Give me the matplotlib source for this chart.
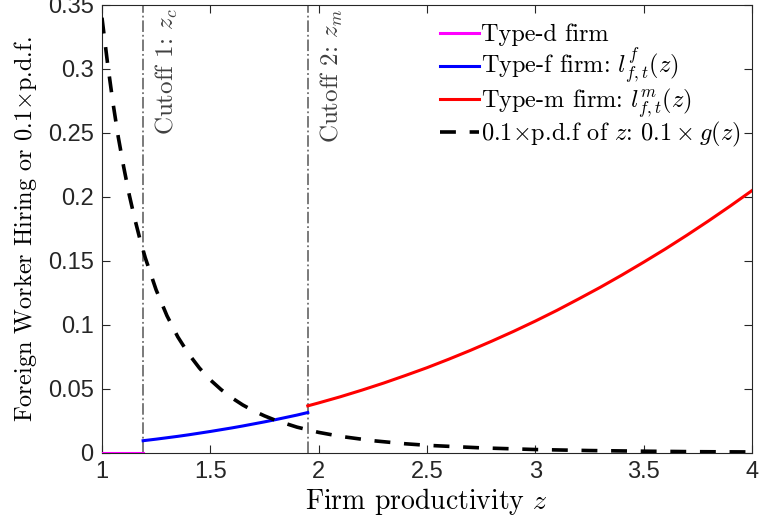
import matplotlib
matplotlib.use('Agg')
import matplotlib.pyplot as plt

plt.rcParams['mathtext.fontset'] = 'cm'

# cutoffs
z_c = 1.19
z_m = 1.95

# type-d firm: no foreign hiring
z_d = [1.0, 1.19]
l_d = [0.0, 0.0]

# type-f firm
z_f = [1.19, 1.25, 1.3, 1.35, 1.4, 1.45, 1.5, 1.55, 1.6, 1.65, 1.7, 1.75, 1.8, 1.85, 1.9, 1.95]
l_f = [0.0096, 0.0108, 0.0119, 0.0130, 0.0142, 0.0155, 0.0168, 0.0182, 0.0196, 0.0211,
       0.0227, 0.0243, 0.0260, 0.0278, 0.0296, 0.0316]

# type-m firm
z_m_pts = [1.95, 2.0, 2.1, 2.2, 2.3, 2.4, 2.5, 2.6, 2.7, 2.8, 2.9, 3.0, 3.1, 3.2, 3.3,
           3.4, 3.5, 3.6, 3.7, 3.8, 3.9, 4.0]
l_m = [0.0368, 0.0391, 0.0439, 0.0491, 0.0546, 0.0605, 0.0666, 0.0732, 0.0801, 0.0874,
       0.0950, 0.1030, 0.1114, 0.1203, 0.1294, 0.1390, 0.1490, 0.1593, 0.1701, 0.1813,
       0.1929, 0.2049]

# 0.1 x pdf of z
z_g = [1.0, 1.025, 1.05, 1.075, 1.1, 1.125, 1.15, 1.175, 1.2, 1.25, 1.3, 1.35, 1.4, 1.45, 1.5,
       1.55, 1.6, 1.65, 1.7, 1.75, 1.8, 1.9, 2.0, 2.1, 2.25, 2.4, 2.5, 2.75, 3.0, 3.25, 3.5,
       3.75, 4.0]
g_01 = [0.340, 0.3054, 0.2743, 0.2470, 0.2236, 0.2023, 0.1838, 0.1672, 0.1524, 0.1274, 0.1072,
        0.0907, 0.0774, 0.0663, 0.0571, 0.0495, 0.0430, 0.0375, 0.0329, 0.0290, 0.0256,
        0.0202, 0.0161, 0.0130, 0.0096, 0.0072, 0.0060, 0.0040, 0.0027, 0.0019, 0.0014,
        0.0010, 0.0008]

fig = plt.figure(figsize=(7.61, 5.29), dpi=100)
ax = fig.add_axes([0.134, 0.1437, 0.854, 0.847])

ax.plot(z_d, l_d, color='#ff00ff', lw=2.2, label='Type-d firm', zorder=3)
ax.plot(z_f, l_f, color='#0000ff', lw=2.2, label=r'Type-f firm: $l^f_{f,t}(z)$', zorder=3)
ax.plot(z_m_pts, l_m, color='#ff0000', lw=2.2, label=r'Type-m firm: $l^m_{f,t}(z)$', zorder=3)
ax.plot(z_g, g_01, color='black', lw=2.6, dashes=(4.4, 3.8),
        label=r'0.1$\times$p.d.f of $z$: $0.1\times g(z)$', zorder=3)

for zc in (z_c, z_m):
    ax.axvline(zc, color='#707070', lw=1.3, ls='-.', zorder=2)

ax.text(z_c + 0.05, 0.347, r'Cutoff 1: $z_c$', rotation=90, va='top', ha='left',
        family='cmr10', fontsize=18, color='#404040')
ax.text(z_m + 0.05, 0.347, r'Cutoff 2: $z_m$', rotation=90, va='top', ha='left',
        family='cmr10', fontsize=18, color='#404040')

ax.set_xlim(1, 4)
ax.set_ylim(0, 0.35)
ax.set_xticks([1, 1.5, 2, 2.5, 3, 3.5, 4])
ax.set_xticklabels(['1', '1.5', '2', '2.5', '3', '3.5', '4'])
ax.set_yticks([0, 0.05, 0.1, 0.15, 0.2, 0.25, 0.3, 0.35])
ax.set_yticklabels(['0', '0.05', '0.1', '0.15', '0.2', '0.25', '0.3', '0.35'])
ax.tick_params(direction='in', top=True, right=True, length=6, width=0.8,
               labelsize=17, colors='#262626', pad=6)
for lab in ax.get_xticklabels() + ax.get_yticklabels():
    lab.set_family('Liberation Sans')
for s in ax.spines.values():
    s.set_color('#262626')
    s.set_linewidth(0.8)

ax.set_xlabel(r'Firm productivity $z$', family='cmr10', fontsize=20, labelpad=2)
ax.set_ylabel(r'Foreign Worker Hiring or 0.1$\times$p.d.f.', family='cmr10', fontsize=17.5, labelpad=6)

leg = ax.legend(loc='upper right', bbox_to_anchor=(0.983, 0.958), frameon=False,
                prop={'family': 'cmr10', 'size': 17.5}, handlelength=1.6,
                handletextpad=0.1, labelspacing=0.0, borderaxespad=0.0, borderpad=0.0)

fig.savefig('out.png', dpi=100)
